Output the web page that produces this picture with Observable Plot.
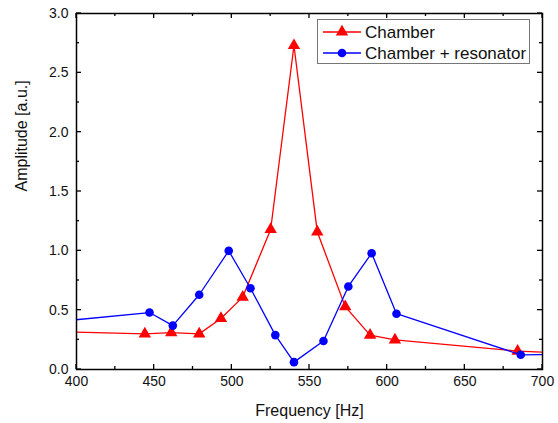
<!DOCTYPE html>
<html>
<head>
<meta charset="utf-8">
<script src="https://cdn.jsdelivr.net/npm/d3@7"></script>
<script src="https://cdn.jsdelivr.net/npm/@observablehq/plot@0.6"></script>
<style>
  html, body { margin: 0; padding: 0; background: #fff; }
  #chart { width: 558px; height: 423px; }
  svg { font-family: Arial, "Liberation Sans", sans-serif; }
</style>
</head>
<body>
<div id="chart"></div>
<script>
// Data
const chamberFreq = [380, 444, 461, 479, 493, 507, 525, 540, 555, 573, 589, 605, 684, 720];
const chamberAmp  = [0.322, 0.30, 0.31, 0.30, 0.43, 0.61, 1.18, 2.73, 1.16, 0.53, 0.29, 0.25, 0.155, 0.134];
const resFreq = [380, 447, 462, 479, 498, 512, 528, 540, 559, 575, 590, 606, 686, 720];
const resAmp  = [0.394, 0.48, 0.37, 0.63, 1.00, 0.685, 0.29, 0.062, 0.24, 0.70, 0.98, 0.47, 0.124, 0.128];
const seriesNames = ["Chamber", "Chamber + resonator"];
const xMajor = [400, 450, 500, 550, 600, 650, 700];
const xMinor = [425, 475, 525, 575, 625, 675];
const yMajor = [0, 0.5, 1.0, 1.5, 2.0, 2.5, 3.0];
const yMinor = [0.25, 0.75, 1.25, 1.75, 2.25, 2.75];
const xLabel = "Frequency [Hz]";
const yLabel = "Amplitude [a.u.]";

const RED = "#ff0000", BLUE = "#0000ff";
const chamber = chamberFreq.map((f, i) => ({f, a: chamberAmp[i]}));
const res = resFreq.map((f, i) => ({f, a: resAmp[i]}));
const inDomain = d => d.f >= 400 && d.f <= 700;

const plot = Plot.plot({
  width: 558,
  height: 423,
  marginLeft: 76,
  marginRight: 16,
  marginTop: 13,
  marginBottom: 54,
  style: {fontFamily: "Arial, 'Liberation Sans', sans-serif", background: "#fff"},
  x: {domain: [400, 700]},
  y: {domain: [0, 3]},
  marks: [
    Plot.axisX(xMajor, {tickSize: 0, tickPadding: 7, fontSize: 14, fill: "#111", label: null}),
    Plot.axisY(yMajor, {tickSize: 0, tickPadding: 8, fontSize: 14, fill: "#111", tickFormat: d3.format(".1f"), label: null}),
    // series
    Plot.line(chamber, {x: "f", y: "a", stroke: RED, strokeWidth: 1.3, clip: true}),
    Plot.dot(chamber.filter(inDomain), {x: "f", y: "a", symbol: "triangle", r: 4.6, fill: RED, stroke: null}),
    Plot.line(res, {x: "f", y: "a", stroke: BLUE, strokeWidth: 1.3, clip: true}),
    Plot.dot(res.filter(inDomain), {x: "f", y: "a", symbol: "circle", r: 4.3, fill: BLUE, stroke: null}),
    Plot.frame({stroke: "#000", strokeWidth: 1.5}),
    // axis titles
    Plot.text([xLabel], {frameAnchor: "bottom", dy: 41, lineAnchor: "middle", fontSize: 16, fill: "#111"}),
    Plot.text([yLabel], {frameAnchor: "left", dx: -55, rotate: -90, lineAnchor: "middle", fontSize: 16, fill: "#111"})
  ]
});

const svg = d3.select(plot);
const sx = plot.scale("x"), sy = plot.scale("y");
const [x0, x1] = sx.range, [y0, y1] = sy.range; // y0 bottom, y1 top

// inward ticks on all four sides, positioned with the plot's own scales
const tg = svg.append("g").attr("stroke", "#000").attr("stroke-width", 1.3);
const addX = (vals, len) => vals.forEach(v => {
  const px = sx.apply(v);
  tg.append("line").attr("x1", px).attr("x2", px).attr("y1", y0).attr("y2", y0 - len);
  tg.append("line").attr("x1", px).attr("x2", px).attr("y1", y1).attr("y2", y1 + len);
});
const addY = (vals, len) => vals.forEach(v => {
  const py = sy.apply(v);
  tg.append("line").attr("y1", py).attr("y2", py).attr("x1", x0).attr("x2", x0 + len);
  tg.append("line").attr("y1", py).attr("y2", py).attr("x1", x1).attr("x2", x1 - len);
});
addX(xMajor, 5); addX(xMinor, 3);
addY(yMajor, 5); addY(yMinor, 3);

// Legend box inside the plot (top right)
const lg = svg.append("g").attr("text-anchor", "start");
lg.append("rect").attr("x", 317.5).attr("y", 19.5).attr("width", 212).attr("height", 44)
  .attr("fill", "#fff").attr("stroke", "#777").attr("stroke-width", 1);
const rows = [
  {name: seriesNames[0], color: RED, sym: d3.symbolTriangle, size: Math.PI * 4.6 * 4.6, y: 32},
  {name: seriesNames[1], color: BLUE, sym: d3.symbolCircle, size: Math.PI * 4.3 * 4.3, y: 53}
];
for (const r of rows) {
  lg.append("line").attr("x1", 323).attr("x2", 361).attr("y1", r.y).attr("y2", r.y)
    .attr("stroke", r.color).attr("stroke-width", 1.3);
  lg.append("path").attr("d", d3.symbol(r.sym, r.size)()).attr("transform", `translate(342,${r.y})`)
    .attr("fill", r.color);
  lg.append("text").attr("x", 365).attr("y", r.y).attr("dy", "0.35em")
    .attr("font-size", 17).attr("fill", "#111").attr("text-anchor", "start").text(r.name);
}

document.getElementById("chart").appendChild(plot);
</script>
</body>
</html>
